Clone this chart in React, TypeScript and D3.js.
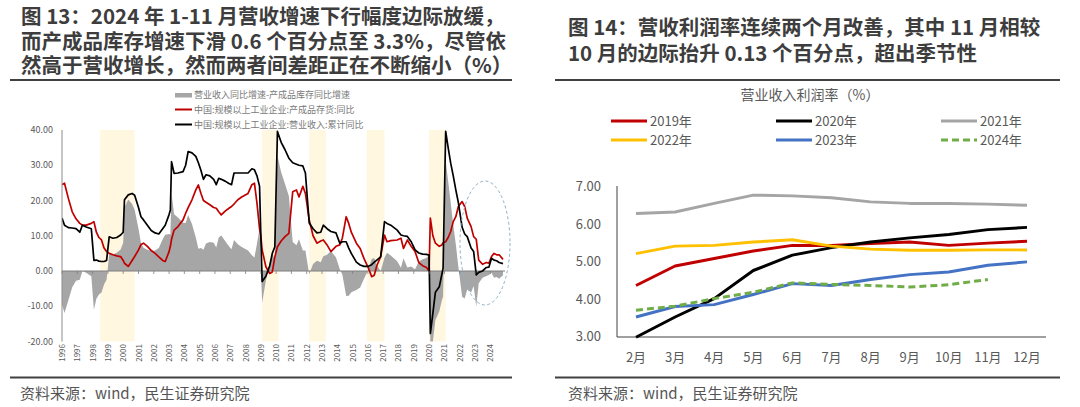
import React from 'react';
import * as d3 from 'd3';

const FONT = '"Noto Sans CJK SC", "Noto Sans", sans-serif';

// ---------- Left chart (图13) data ----------
const leftDates = [
  '1996-01','1996-03','1996-06','1996-09','1996-12','1997-03','1997-05','1997-08','1997-12','1998-02',
  '1998-04','1998-06','1998-08','1998-10','1998-12','1999-02','1999-05','1999-08','1999-11','2000-01',
  '2000-02','2000-05','2000-08','2000-10','2001-01','2001-03','2001-05','2001-08','2001-11','2002-02',
  '2002-05','2002-08','2002-10','2003-01','2003-02','2003-03','2003-05','2003-08','2003-12','2004-02',
  '2004-04','2004-07','2004-10','2004-12','2005-02','2005-04','2005-06','2005-09','2005-12','2006-02',
  '2006-04','2006-06','2006-09','2006-12','2007-02','2007-04','2007-07','2007-10','2008-03','2008-06',
  '2008-08','2008-10','2008-12','2009-01','2009-02','2009-05','2009-08','2009-10','2009-12','2010-02',
  '2010-05','2010-08','2010-11','2011-02','2011-05','2011-07','2011-10','2011-12','2012-03','2012-06',
  '2012-09','2012-12','2013-02','2013-05','2013-08','2013-12','2014-03','2014-05','2014-08','2014-10',
  '2014-12','2015-04','2015-07','2015-10','2016-01','2016-04','2016-06','2016-08','2016-11','2017-02',
  '2017-04','2017-07','2017-12','2018-03','2018-05','2018-08','2018-11','2019-02','2019-05','2019-08',
  '2019-11','2020-01','2020-02','2020-04','2020-06','2020-09','2020-11','2020-12','2021-02','2021-04',
  '2021-06','2021-08','2021-10','2021-12','2022-03','2022-05','2022-07','2022-10','2022-12','2023-02',
  '2023-04','2023-07','2023-10','2023-12','2024-02','2024-04','2024-06','2024-08','2024-11',
];
// 中国:规模以上工业企业:营业收入:累计同比
const revenueYoY = [
  15, 13, 12.3, 12.2, 12, 11, 13, 12.5, 12, 3,
  3.1, 2.8, 2.7, 2.7, 3, 9.7, 9.3, 9.5, 10.2, 11,
  20.2, 21.6, 22, 21.5, 18, 15.4, 14.5, 13, 11.5, 10.8,
  10.5, 12, 13, 16, 17.3, 31, 27.7, 27.8, 28.2, 30,
  33.9, 33.5, 32.5, 30.7, 28.5, 26, 27.3, 27, 26, 24.5,
  26.3, 26, 25.5, 24.8, 24.5, 27.8, 27.8, 27.8, 27.8, 29,
  28.7, 27, 24, 10, -3, -1.5, 1.5, 5, 6.9, 39.6,
  36.5, 34.4, 32, 30.7, 30.3, 30, 29.8, 27.8, 13.6, 12,
  10.8, 11, 13, 12, 11.2, 10.8, 7.9, 8.3, 8.3, 6.5,
  5, 2.5, 1.7, 1.3, 1.3, 1.8, 2.5, 3.1, 4, 14,
  13.5, 13, 11.6, 10.2, 10, 9.8, 8.3, 6, 5.1, 4.8,
  4.7, 4.5, -17.7, -12, -6, -4.5, -1, 0.8, 39.6, 35,
  30.6, 27, 23, 19.4, 12.4, 10.5, 9.75, 6.5, 5.5, -1.1,
  -0.4, 0, 1, 1.1, 3.6, 3.1, 2.9, 2.4, 2.1,
];
// 中国:规模以上工业企业:产成品存货:同比
const inventoryYoY = [
  24.5, 24.9, 20.6, 16.8, 14.8, 13.5, 13, 13, 13.5, 14,
  11, 9.5, 8.8, 6.5, 5.5, 5, 4.6, 4.3, 4.1, 3,
  2.2, 1.3, 3, 4.1, 6, 7.5, 7.9, 7, 5.8, 5,
  4, 3, 2.7, 5.5, 7, 9, 11.6, 12.6, 14.5, 16.4,
  18, 20.2, 23, 24.4, 22, 20, 19.5, 18.8, 18, 17.8,
  16.8, 15.9, 17, 17.8, 18.3, 19, 20.2, 21, 22, 24.5,
  24.9, 19.2, 12, 9.75, 6, 1.2, -0.7, -0.3, 4, 6.9,
  8.5, 9.75, 10.7, 22.5, 23, 21, 24, 22, 14.5, 10,
  7.9, 8.5, 8.8, 7.4, 5.5, 7, 7.4, 9.3, 15.4, 13.5,
  11, 7.9, 6.4, 3.5, 1.2, -1.6, -1.2, 1.5, 4.1, 10.2,
  8.3, 8.6, 8.8, 9.3, 6.4, 8.8, 7, 5.5, 2.4, 1.5,
  1, 0, 15, 10, 7.9, 7, 7.4, 8, 8.3, 9.5,
  11.2, 14, 15.4, 18.3, 19.7, 18.3, 15, 12.6, 9.75, 9,
  3.1, 1.9, 2.4, 2.2, 4.1, 5, 4.6, 4.6, 3.3,
];
const leftYTicks = [40, 30, 20, 10, 0, -10, -20];
const yearLabels = [
  '1996','1997','1998','1999','2000','2001','2002','2003','2004','2005',
  '2006','2007','2008','2009','2010','2011','2012','2013','2014','2015',
  '2016','2017','2018','2019','2020','2021','2022','2023','2024',
];
const shadedPeriods: [string, string][] = [
  ['1998-07', '2000-10'],
  ['2009-02', '2010-03'],
  ['2012-03', '2013-04'],
  ['2015-12', '2017-02'],
  ['2020-01', '2021-02'],
];
const leftLegend = [
  '营业收入同比增速-产成品库存同比增速',
  '中国:规模以上工业企业:产成品存货:同比',
  '中国:规模以上工业企业:营业收入:累计同比',
];

// ---------- Right chart (图14) data ----------
const rightMonths = ['2月','3月','4月','5月','6月','7月','8月','9月','10月','11月','12月'];
const margin2019 = [4.36, 4.88, 5.08, 5.28, 5.43, 5.43, 5.48, 5.52, 5.43, 5.49, 5.54];
const margin2020 = [2.98, 3.52, 4.01, 4.76, 5.17, 5.37, 5.52, 5.63, 5.72, 5.85, 5.91];
const margin2021 = [6.28, 6.32, 6.55, 6.77, 6.75, 6.70, 6.59, 6.55, 6.55, 6.53, 6.50];
const margin2022 = [5.21, 5.41, 5.43, 5.52, 5.58, 5.41, 5.33, 5.30, 5.30, 5.31, 5.31];
const margin2023 = [3.52, 3.80, 3.85, 4.12, 4.41, 4.36, 4.52, 4.65, 4.72, 4.90, 4.99];
const margin2024 = [3.70, 3.81, 4.01, 4.18, 4.43, 4.39, 4.36, 4.32, 4.38, 4.52];
const rightYTicks = [3, 4, 5, 6, 7];

const rightSeries = [
  { name: '2019年', values: margin2019, color: '#C00000', dash: '' },
  { name: '2020年', values: margin2020, color: '#000000', dash: '' },
  { name: '2021年', values: margin2021, color: '#A5A5A5', dash: '' },
  { name: '2022年', values: margin2022, color: '#FFC000', dash: '' },
  { name: '2023年', values: margin2023, color: '#4472C4', dash: '' },
  { name: '2024年', values: margin2024, color: '#70AD47', dash: '7 4' },
];

const parse = d3.timeParse('%Y-%m');

export default function App() {
  // Left chart scales
  const xL = d3.scaleTime().domain([parse('1996-01')!, parse('2024-11')!]).range([62, 503]);
  const yL = d3.scaleLinear().domain([-20, 40]).range([341.5, 130]);
  const clamp = (v: number) => Math.max(-20, Math.min(40, v));
  const pts = leftDates.map((d, i) => ({ t: parse(d)!, b: revenueYoY[i], r: inventoryYoY[i] }));
  const area = d3.area<any>().x(d => xL(d.t)).y0(yL(0)).y1(d => yL(clamp(d.b - d.r)));
  const lineB = d3.line<any>().x(d => xL(d.t)).y(d => yL(clamp(d.b)));
  const lineR = d3.line<any>().x(d => xL(d.t)).y(d => yL(clamp(d.r)));

  // Right chart scales
  const xR = d3.scalePoint<string>().domain(rightMonths).range([636, 1027]);
  const yR = d3.scaleLinear().domain([3, 7]).range([336.5, 186.5]);
  const lineRight = d3.line<number>().x((_, i) => xR(rightMonths[i])!).y(v => yR(v));

  const legendCols = [611, 776, 941];
  const legendRows = [121, 140];

  return (
    <svg width={1080} height={407} style={{ position: 'absolute', left: 0, top: 0, background: '#fff' }} fontFamily={FONT}>
      <rect x={0} y={0} width={1080} height={407} fill="#fff" />
      {/* Titles */}
      <g fill="#3d3d3d" fontWeight="bold" fontSize={20.5}>
        <text x={21} y={24}>图 13：2024 年 1-11 月营收增速下行幅度边际放缓，</text>
        <text x={21} y={48.5}>而产成品库存增速下滑 0.6 个百分点至 3.3%，尽管依</text>
        <text x={21} y={73}>然高于营收增长，然而两者间差距正在不断缩小（%）</text>
        <text x={568} y={35}>图 14：营收利润率连续两个月改善，其中 11 月相较</text>
        <text x={568} y={61}>10 月的边际抬升 0.13 个百分点，超出季节性</text>
      </g>
      <line x1={10} x2={512} y1={80} y2={80} stroke="#404040" strokeWidth={2} />
      <line x1={555} x2={1060} y1={80} y2={80} stroke="#404040" strokeWidth={2} />
      <line x1={10} x2={512} y1={377.5} y2={377.5} stroke="#404040" strokeWidth={2} />
      <line x1={555} x2={1060} y1={377.5} y2={377.5} stroke="#404040" strokeWidth={2} />
      <text x={20} y={399} fontSize={15} fill="#555">资料来源：wind，民生证券研究院</text>
      <text x={568} y={399} fontSize={15} fill="#555">资料来源：wind，民生证券研究院</text>

      {/* ---------- Left chart ---------- */}
      <defs>
        <clipPath id="clipL">
          <rect x={62} y={129} width={450} height={213} />
        </clipPath>
      </defs>
      {shadedPeriods.map(([a, b], i) => (
        <rect key={i} x={xL(parse(a)!)} y={130} width={xL(parse(b)!) - xL(parse(a)!)} height={211.5} fill="#FFF7E0" />
      ))}
      <g clipPath="url(#clipL)">
        <path d={area(pts)!} fill="#A6A6A6" />
        <line x1={62} x2={505} y1={yL(0)} y2={yL(0)} stroke="#7f7f7f" strokeWidth={1} />
        <path d={lineR(pts)!} fill="none" stroke="#C00000" strokeWidth={1.7} strokeLinejoin="round" />
        <path d={lineB(pts)!} fill="none" stroke="#000" strokeWidth={1.7} strokeLinejoin="round" />
      </g>
      {yearLabels.map(y => {
        const x = xL(parse(`${y}-01`)!);
        return <line key={y} x1={x} x2={x} y1={yL(0)} y2={yL(0) + 3} stroke="#7f7f7f" strokeWidth={0.8} />;
      })}
      <line x1={62} x2={62} y1={130} y2={341.5} stroke="#8c8c8c" strokeWidth={1} />
      {leftYTicks.map(v => (
        <text key={v} x={53} y={yL(v) + 3} fontSize={9} fill="#595959" textAnchor="end">{v.toFixed(2)}</text>
      ))}
      {yearLabels.map(y => {
        const x = xL(parse(`${y}-01`)!);
        return (
          <text key={y} transform={`translate(${x + 3},344) rotate(-90)`} fontSize={8} fill="#595959" textAnchor="end">{y}</text>
        );
      })}
      <ellipse cx={485} cy={243} rx={25} ry={62} fill="none" stroke="#8FB0C4" strokeWidth={1} strokeDasharray="3 2.5" />
      {/* Left legend */}
      <rect x={175} y={93} width={17} height={4.5} fill="#A6A6A6" />
      <line x1={175} x2={192} y1={109.5} y2={109.5} stroke="#C00000" strokeWidth={2} />
      <line x1={175} x2={192} y1={124.5} y2={124.5} stroke="#000" strokeWidth={2} />
      {leftLegend.map((t, i) => (
        <text key={t} x={194} y={[95, 109.5, 124.5][i] + 3.2} fontSize={9} fill="#7a7a7a">{t}</text>
      ))}

      {/* ---------- Right chart ---------- */}
      <text x={810} y={100} fontSize={14} fill="#595959" textAnchor="middle">营业收入利润率（%）</text>
      {rightSeries.map((s, i) => {
        const cx = legendCols[i % 3];
        const cy = legendRows[Math.floor(i / 3)];
        return (
          <g key={s.name}>
            <line x1={cx} x2={cx + 36} y1={cy} y2={cy} stroke={s.color} strokeWidth={3} strokeDasharray={s.dash || undefined} />
            <text x={cx + 39} y={cy + 4.5} fontSize={13} fill="#595959">{s.name}</text>
          </g>
        );
      })}
      <line x1={617} x2={617} y1={186} y2={337} stroke="#404040" strokeWidth={1} />
      <line x1={617} x2={1046} y1={337} y2={337} stroke="#404040" strokeWidth={1} />
      {rightYTicks.map(v => (
        <text key={v} x={601} y={yR(v) + 4.5} fontSize={13} fill="#595959" textAnchor="end">{v.toFixed(2)}</text>
      ))}
      {rightMonths.map(m => (
        <text key={m} x={xR(m)!} y={362} fontSize={13} fill="#595959" textAnchor="middle">{m}</text>
      ))}
      {rightSeries.map(s => (
        <path key={s.name} d={lineRight(s.values)!} fill="none" stroke={s.color} strokeWidth={3}
          strokeDasharray={s.dash || undefined} strokeLinejoin="round" />
      ))}
    </svg>
  );
}
